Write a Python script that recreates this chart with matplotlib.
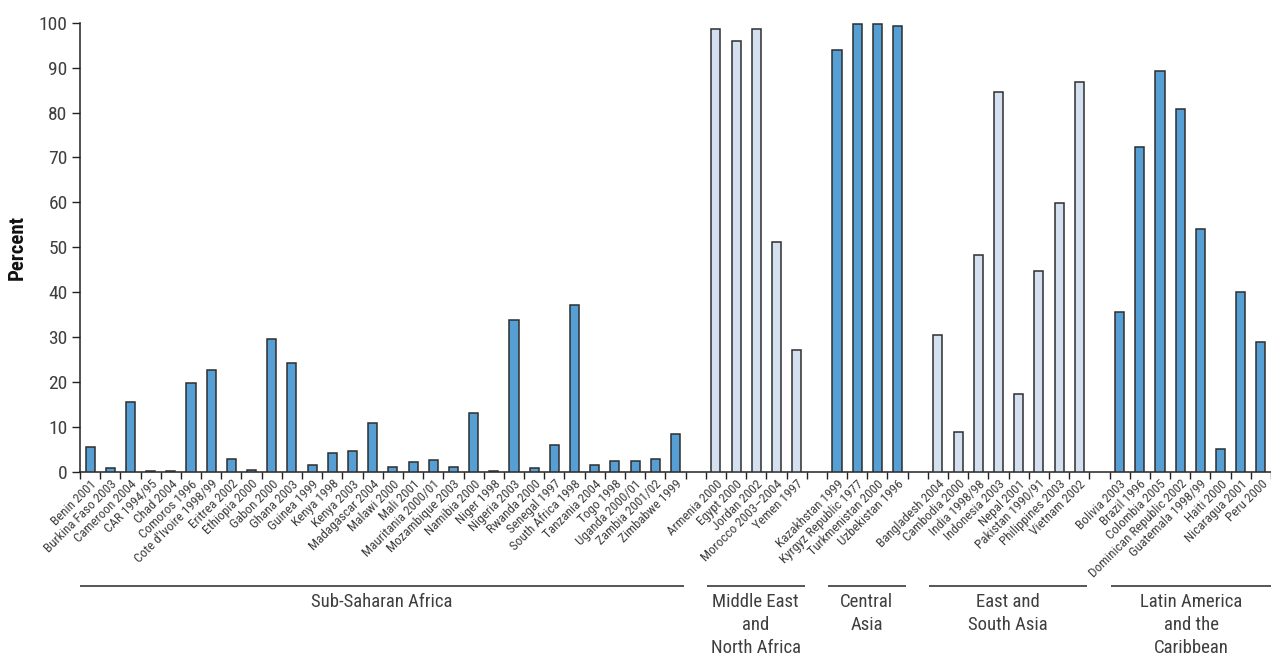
import matplotlib
matplotlib.use("Agg")
import matplotlib.pyplot as plt
from matplotlib import font_manager
import matplotlib.transforms as mtransforms

# ---------------- data ----------------
groups = ["Sub-Saharan Africa", "Middle East\nand\nNorth Africa", "Central\nAsia",
          "East and\nSouth Asia", "Latin America\nand the\nCaribbean"]

ssa_labels = ["Benin 2001", "Burkina Faso 2003", "Cameroon 2004", "CAR 1994/95", "Chad 2004",
              "Comoros 1996", "Cote d'Ivoire 1998/99", "Eritrea 2002", "Ethiopia 2000", "Gabon 2000",
              "Ghana 2003", "Guinea 1999", "Kenya 1998", "Kenya 2003", "Madagascar 2004",
              "Malawi 2000", "Mali 2001", "Mauritania 2000/01", "Mozambique 2003", "Namibia 2000",
              "Niger 1998", "Nigeria 2003", "Rwanda 2000", "Senegal 1997", "South Africa 1998",
              "Tanzania 2004", "Togo 1998", "Uganda 2000/01", "Zambia 2001/02", "Zimbabwe 1999"]
ssa_values = [5.5, 0.9, 15.6, 0.3, 0.3, 19.7, 22.7, 3.0, 0.5, 29.7,
              24.2, 1.6, 4.3, 4.7, 10.8, 1.1, 2.3, 2.6, 1.2, 13.2,
              0.3, 33.8, 0.9, 6.1, 37.1, 1.6, 2.5, 2.5, 3.0, 8.4]

mena_labels = ["Armenia 2000", "Egypt 2000", "Jordan 2002", "Morocco 2003\u20132004", "Yemen 1997"]
mena_values = [98.6, 95.9, 98.7, 51.3, 27.2]

ca_labels = ["Kazakhstan 1999", "Kyrgyz Republic 1977", "Turkmenistan 2000", "Uzbekistan 1996"]
ca_values = [93.9, 99.6, 99.6, 99.3]

esa_labels = ["Bangladesh 2004", "Cambodia 2000", "India 1998/98", "Indonesia 2003", "Nepal 2001",
              "Pakistan 1990/91", "Philippines 2003", "Vietnam 2002"]
esa_values = [30.4, 9.0, 48.2, 84.6, 17.4, 44.8, 59.8, 86.7]

lac_labels = ["Bolivia 2003", "Brazil 1996", "Colombia 2005", "Dominican Republic 2002",
              "Guatemala 1998/99", "Haiti 2000", "Nicaragua 2001", "Peru 2000"]
lac_values = [35.7, 72.4, 89.3, 80.7, 54.0, 5.2, 40.1, 28.9]

yticks = [0, 10, 20, 30, 40, 50, 60, 70, 80, 90, 100]

# ---------------- style ----------------
dark = "#569fd4"
light = "#d4e0f0"
edge = "#2e2e2e"
txt = "#3f3f3f"
group_colors = [dark, light, dark, light, dark]

avail = {f.name for f in font_manager.fontManager.ttflist}
fam = None
for cand in ["Roboto Condensed", "Archivo Narrow", "Asap Condensed", "PT Sans Narrow",
             "Liberation Sans Narrow"]:
    if cand in avail:
        fam = cand
        break
plt.rcParams["font.family"] = ([fam] if fam else []) + ["DejaVu Sans"]

fig = plt.figure(figsize=(12.71, 6.55), dpi=100)
ax = fig.add_axes([80 / 1271, 1 - 472 / 655, 1 - 80 / 1271, (472 - 22.7) / 655])

all_labels = [ssa_labels, mena_labels, ca_labels, esa_labels, lac_labels]
all_values = [ssa_values, mena_values, ca_values, esa_values, lac_values]

pos = 0
tick_pos, tick_lab = [], []
spans = []
for gi, (labs, vals) in enumerate(zip(all_labels, all_values)):
    xs = list(range(pos, pos + len(vals)))
    ax.bar(xs, vals, width=0.45, color=group_colors[gi], edgecolor=edge, linewidth=1.1, zorder=3)
    tick_pos += xs
    tick_lab += labs
    spans.append((xs[0], xs[-1]))
    pos += len(vals) + 1

nslots = pos - 1
ax.set_xlim(-0.5, nslots - 0.5)
ax.set_ylim(0, 100)

# boundary ticks (major) and labels at bar centres (minor)
ax.set_xticks([i - 0.5 for i in range(nslots + 1)])
ax.set_xticklabels([])
ax.tick_params(axis="x", which="major", length=5, width=1, color="#222222", direction="out")
ax.set_xticks(tick_pos, minor=True)
ax.set_xticklabels(tick_lab, minor=True, rotation=45, ha="right", rotation_mode="anchor",
                   fontsize=9.5, color=txt)
ax.tick_params(axis="x", which="minor", length=0, pad=4)

ax.set_yticks(yticks)
ax.set_yticklabels([str(v) for v in yticks], fontsize=14, color=txt)
ax.tick_params(axis="y", length=6, width=1, color="#222222", direction="out", pad=3)

for s in ["top", "right"]:
    ax.spines[s].set_visible(False)
ax.spines["left"].set_color("#222222")
ax.spines["bottom"].set_color("#222222")
ax.spines["left"].set_linewidth(1.1)
ax.spines["bottom"].set_linewidth(1.1)

ax.set_ylabel("Percent", fontsize=15, fontweight="bold", color="#111111")
ax.yaxis.set_label_coords(-0.0445, 0.5)

# group brackets
trans = mtransforms.blended_transform_factory(ax.transData, ax.transAxes)
line_y = (472 - 585.7) / 449.3
text_y = (472 - 593) / 449.3
for gi, (a, b) in enumerate(spans):
    x0 = a - 0.5 if gi == 0 else a - 0.45
    x1 = nslots - 0.45 if gi == len(spans) - 1 else b + 0.4
    ax.plot([x0, x1], [line_y, line_y], transform=trans, color="#555555", lw=1.4,
            clip_on=False, solid_capstyle="butt")
    ax.text((x0 + x1) / 2, text_y, groups[gi], transform=trans, ha="center", va="top",
            fontsize=13.5, color=txt, linespacing=1.35)

fig.savefig("out.png", dpi=100)
